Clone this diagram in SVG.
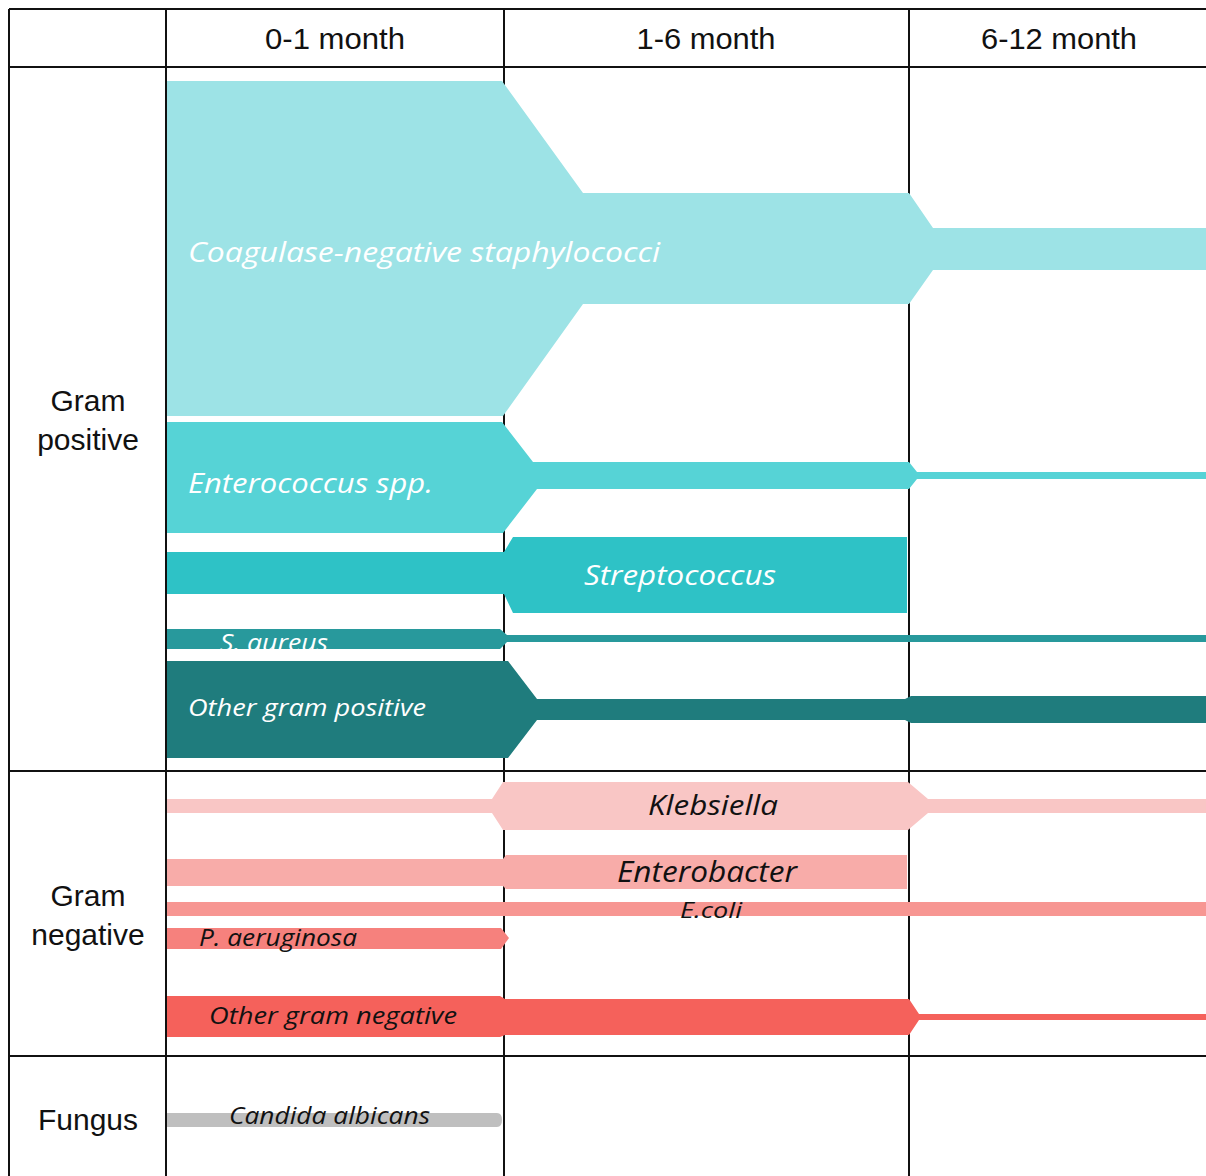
<svg xmlns="http://www.w3.org/2000/svg" width="1206" height="1176" viewBox="0 0 1206 1176">
<style>
.grid{stroke:#111;stroke-width:2;fill:none}
.hdr{font-family:"Liberation Sans","Open Sans",sans-serif;font-size:29px;fill:#111;text-anchor:middle}
.row{font-size:30px}
.lbl{font-family:"Open Sans","Liberation Sans",sans-serif;font-style:italic}
.w{fill:#fff}
.k{fill:#111}
</style>
<rect width="1206" height="1176" fill="#fff"/>
<g id="grid">
<line class="grid" x1="9" y1="9" x2="1206" y2="9"/>
<line class="grid" x1="9" y1="67" x2="1206" y2="67"/>
<line class="grid" x1="9" y1="771" x2="1206" y2="771"/>
<line class="grid" x1="9" y1="1056" x2="1206" y2="1056"/>
<line class="grid" x1="9" y1="9" x2="9" y2="1176"/>
<line class="grid" x1="166" y1="9" x2="166" y2="1176"/>
<line class="grid" x1="504" y1="9" x2="504" y2="1176"/>
<line class="grid" x1="909" y1="9" x2="909" y2="1176"/>
</g>
<g id="headers">
<text class="hdr" x="335" y="49" textLength="140" lengthAdjust="spacingAndGlyphs">0-1 month</text>
<text class="hdr" x="706" y="49" textLength="139" lengthAdjust="spacingAndGlyphs">1-6 month</text>
<text class="hdr" x="1059" y="49" textLength="156" lengthAdjust="spacingAndGlyphs">6-12 month</text>
</g>
<g id="row-gram-positive">
<text class="hdr row" x="88" y="411">Gram</text>
<text class="hdr row" x="88" y="450">positive</text>
</g>
<g id="row-gram-negative">
<text class="hdr row" x="88" y="906">Gram</text>
<text class="hdr row" x="88" y="945">negative</text>
</g>
<g id="row-fungus">
<text class="hdr row" x="88" y="1130">Fungus</text>
</g>
<g id="cons">
<polygon fill="#9DE3E6" points="167,81 502,81 583,193 909,193 933,228 1206,228 1206,270 933,270 909,304 583,304 503,416 167,416"/>
<text class="lbl w" x="188" y="262" font-size="28" textLength="472" lengthAdjust="spacingAndGlyphs">Coagulase-negative staphylococci</text>
</g>
<g id="enterococcus">
<polygon fill="#56D3D6" points="167,422 502,422 533,462 909,462 917,472 1206,472 1206,479 917,479 909,489 537,489 503,533 167,533"/>
<text class="lbl w" x="188" y="493" font-size="28" textLength="245" lengthAdjust="spacingAndGlyphs">Enterococcus spp.</text>
</g>
<g id="streptococcus">
<polygon fill="#2EC2C6" points="167,552 504,552 513,537 907,537 907,613 513,613 504,594 167,594"/>
<text class="lbl w" x="584" y="585" font-size="28" textLength="192" lengthAdjust="spacingAndGlyphs">Streptococcus</text>
</g>
<g id="s-aureus">
<polygon fill="#28999C" points="167,629 500,629 507,635 1206,635 1206,642 507,642 500,649 167,649"/>
<text class="lbl w" x="220" y="651" font-size="23" textLength="108" lengthAdjust="spacingAndGlyphs">S. aureus</text>
</g>
<g id="other-gram-positive">
<polygon fill="#1F7C7D" points="167,661 508,661 537,699 905,699 911,696 1206,696 1206,723 911,723 905,720 537,720 508,758 167,758"/>
<text class="lbl w" x="188" y="716" font-size="24" textLength="238" lengthAdjust="spacingAndGlyphs">Other gram positive</text>
</g>
<g id="klebsiella">
<polygon fill="#F9C6C5" points="167,799 492,799 503,782 908,782 928,799 1206,799 1206,813 928,813 908,830 503,830 492,813 167,813"/>
<text class="lbl k" x="648" y="815" font-size="28" textLength="130" lengthAdjust="spacingAndGlyphs">Klebsiella</text>
</g>
<g id="enterobacter">
<polygon fill="#F8ACA9" points="167,859 503,859 506,855 907,855 907,889 506,889 503,886 167,886"/>
<text class="lbl k" x="617" y="882" font-size="29" textLength="180" lengthAdjust="spacingAndGlyphs">Enterobacter</text>
</g>
<g id="e-coli">
<rect fill="#F79692" x="167" y="902" width="1039" height="14"/>
<text class="lbl k" x="680" y="918" font-size="22" textLength="62" lengthAdjust="spacingAndGlyphs">E.coli</text>
</g>
<g id="p-aeruginosa">
<polygon fill="#F6817D" points="167,928 501,928 509,938 501,949 167,949"/>
<text class="lbl k" x="199" y="946" font-size="23" textLength="158" lengthAdjust="spacingAndGlyphs">P. aeruginosa</text>
</g>
<g id="other-gram-negative">
<polygon fill="#F5615B" points="167,996 500,996 505,999 909,999 919,1014 1206,1014 1206,1020 919,1020 909,1035 505,1035 500,1037 167,1037"/>
<text class="lbl k" x="209" y="1024" font-size="24" textLength="248" lengthAdjust="spacingAndGlyphs">Other gram negative</text>
</g>
<g id="candida">
<path fill="#BFBFBF" d="M167,1113 H497 Q502,1113 502,1120 Q502,1127 497,1127 H167 Z"/>
<text class="lbl k" x="229" y="1124" font-size="23" textLength="201" lengthAdjust="spacingAndGlyphs">Candida albicans</text>
</g>
<g id="connectors"></g>
</svg>
